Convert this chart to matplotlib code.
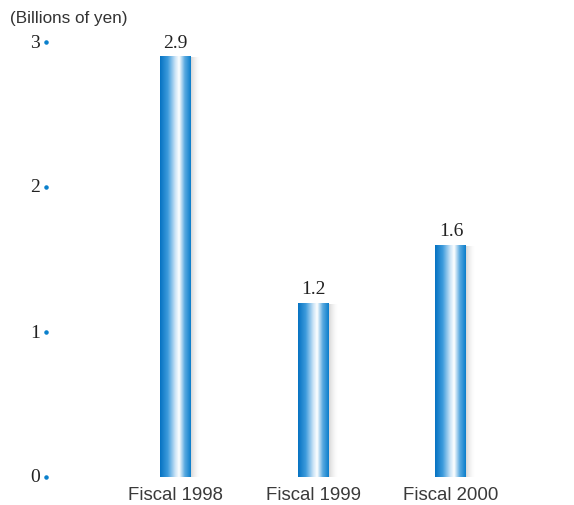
#!/usr/bin/env python3
"""Bar chart of yearly amounts with gradient-shaded bars."""

import matplotlib
matplotlib.use("Agg")
import matplotlib.pyplot as plt
import numpy as np
from matplotlib.colors import LinearSegmentedColormap

# Data
categories = ["Fiscal 1998", "Fiscal 1999", "Fiscal 2000"]
values = [2.9, 1.2, 1.6]
value_labels = ["2.9", "1.2", "1.6"]
y_ticks = [0, 1, 2, 3]
unit_label = "(Billions of yen)"

BLUE = "#0a80cc"
bar_cmap = LinearSegmentedColormap.from_list(
    "tube",
    [(0.0, "#0572c2"), (0.25, "#3d9bdc"), (0.5, "#cfe6f7"),
     (0.62, "#ffffff"), (0.8, "#5aaae0"), (1.0, "#0a7dcb")],
)


def main():
    fig = plt.figure(figsize=(5.74, 5.06), dpi=100)
    ax = fig.add_axes([46 / 574, 1 - 478 / 506, (560 - 46) / 574, (478 - 43) / 506])
    ax.set_xlim(-0.935, 2.79)
    ax.set_ylim(0, 3)

    bar_w = 31 / 138
    grad = np.linspace(0, 1, 256).reshape(1, -1)
    shadow = np.linspace(1, 0, 64).reshape(1, -1)
    for i, v in enumerate(values):
        x0 = i - bar_w / 2
        # soft shadow to the right of each bar
        ax.imshow(np.dstack([np.full((1, 64, 3), 0.55), 0.35 * shadow ** 2]),
                  extent=(x0 + bar_w, x0 + bar_w * 1.3, -0.02, v - 0.01),
                  aspect="auto", interpolation="bilinear", zorder=1)
        ax.imshow(grad, cmap=bar_cmap, extent=(x0, x0 + bar_w, 0, v),
                  aspect="auto", interpolation="bilinear", zorder=2)
        ax.text(i, v + 0.04, value_labels[i], ha="center", va="bottom",
                fontsize=14, family="Liberation Serif", color="#222222")

    # y ticks drawn as small blue dots with serif numbers
    ax.scatter([0] * len(y_ticks), y_ticks, s=5, color=BLUE, clip_on=False,
               transform=ax.get_yaxis_transform(), zorder=3)
    for t in y_ticks:
        ax.text(-0.012, t, str(t), transform=ax.get_yaxis_transform(),
                ha="right", va="center", fontsize=14,
                family="Liberation Serif", color="#222222")

    for i, name in enumerate(categories):
        ax.text(i, -0.065, name, ha="center", va="top", fontsize=13.4,
                family="Liberation Sans", color="#3a3a3a")

    fig.text(10 / 574, 1 - 18 / 506, unit_label, ha="left", va="center",
             fontsize=12.3, family="Liberation Sans", color="#333333")

    ax.set_xticks([])
    ax.set_yticks([])
    for s in ax.spines.values():
        s.set_visible(False)

    fig.savefig("out.png", dpi=100)
    plt.close(fig)


if __name__ == "__main__":
    main()
